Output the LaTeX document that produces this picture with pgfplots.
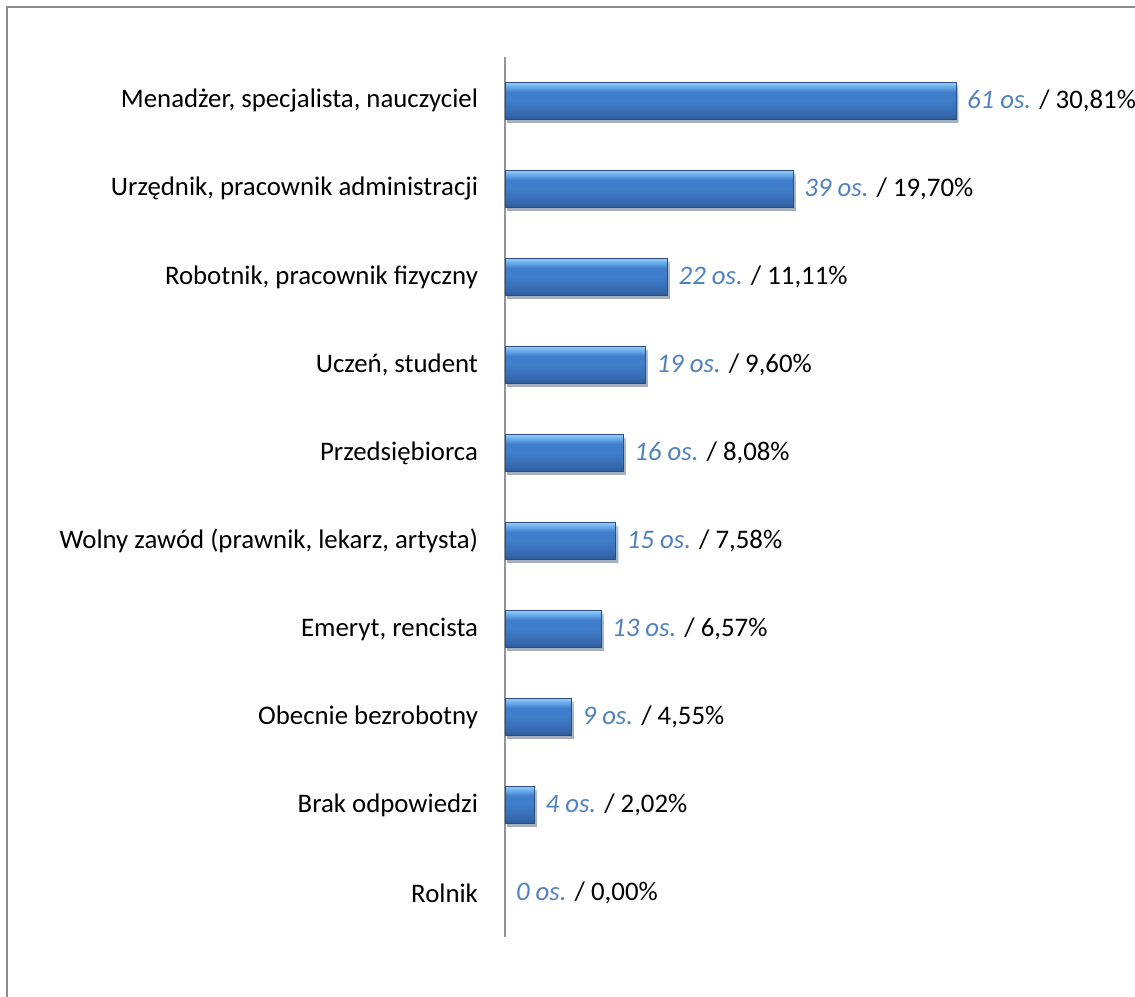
\documentclass[border=0pt]{standalone}
\usepackage{pgfplots}
\pgfplotsset{compat=1.18}
\usepackage{pgfplotstable}
\usepackage{fontspec}
\setmainfont{Carlito}
\definecolor{lblue}{HTML}{4F81BD}
\definecolor{barLight}{HTML}{92C6F4}
\definecolor{barTop}{HTML}{6EAEEE}
\definecolor{barMid}{HTML}{3F7CC9}
\definecolor{barLow}{HTML}{3569AE}
\definecolor{barBot}{HTML}{2B5790}
\definecolor{barEdge}{HTML}{2A4F80}
\definecolor{frameGray}{HTML}{8C8C8C}
\pgfdeclareverticalshading{barshade}{100bp}{color(0bp)=(barBot); color(25bp)=(barBot); color(32bp)=(barLow); color(50bp)=(barMid); color(62bp)=(barMid); color(70bp)=(barTop); color(74bp)=(barLight); color(75bp)=(barLight); color(100bp)=(barLight)}
\pgfplotstableread{
y n pct
9 61 30.81
8 39 19.70
7 22 11.11
6 19 9.60
5 16 8.08
4 15 7.58
3 13 6.57
2 9 4.55
1 4 2.02
0 0 0.00
}\data
\begin{document}
\begin{tikzpicture}
\path[use as bounding box] (0,0) rectangle (567.5pt,498pt);
\draw[frameGray, line width=0.8pt] (3.6pt,-2pt) -- (3.6pt,494.6pt) -- (570pt,494.6pt);
\begin{axis}[
  at={(252.5pt,29.5pt)}, anchor=south west,
  scale only axis, width=225.5pt, height=440pt,
  xmin=0, xmax=61, ymin=-0.5, ymax=9.5,
  axis x line=none,
  axis y line*=left,
  y axis line style={draw=gray!85, line width=0.8pt, -},
  major tick length=0pt,
  ytick={0,...,9},
  yticklabels={Rolnik, Brak odpowiedzi, Obecnie bezrobotny, {Emeryt, rencista}, {Wolny zawód (prawnik, lekarz, artysta)}, Przedsiębiorca, {Uczeń, student}, {Robotnik, pracownik fizyczny}, {Urzędnik, pracownik administracji}, {Menadżer, specjalista, nauczyciel}},
  yticklabel style={font=\fontsize{13.4}{16}\selectfont, anchor=east, xshift=-10pt},
  clip=false,
  every axis plot/.append style={
    xbar, bar width=18.5pt,
    point meta=explicit symbolic,
    visualization depends on={\thisrow{pct}\as\pct},
    nodes near coords={\textcolor{lblue}{\textit{\pgfplotspointmeta\ os.}} / \pgfmathprintnumber[fixed, fixed zerofill, precision=2, use comma, assume math mode=true]{\pct}\%},
    nodes near coords style={anchor=west, xshift=2pt, font=\fontsize{13.4}{16}\selectfont, text=black},
  },
]
\pgfplotsinvokeforeach{0,...,8}{
\addplot[draw=barEdge, line width=0.4pt, shade, shading=barshade,
  preaction={fill=black, fill opacity=0.22, draw=none, transform canvas={xshift=1.2pt, yshift=-1.6pt}},
  x filter/.expression={\coordindex==#1 ? x : nan},
] table[x=n, y=y, meta=n] {\data};
}
\addplot[draw=none, fill=none,
  x filter/.expression={\coordindex==9 ? x : nan},
] table[x=n, y=y, meta=n] {\data};
\end{axis}
\end{tikzpicture}
\end{document}
